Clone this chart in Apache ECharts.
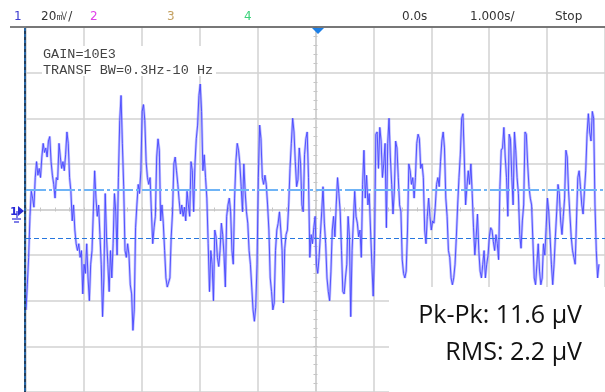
<!DOCTYPE html>
<html>
<head>
<meta charset="utf-8">
<script src="https://cdn.jsdelivr.net/npm/echarts@6/dist/echarts.min.js"></script>
<style>
html,body{margin:0;padding:0;background:#fff}
#main{width:605px;height:392px}
</style>
</head>
<body>
<div id="main"></div>
<script>
// screen: 10 div x 1.000 s/div, 8 div x 2 uV/div (20 mV/div / gain 1E4)
var timeTicks = [-5, -4, -3, -2, -1, 0, 1, 2, 3, 4, 5];
var startTime = -5.0;
var sampleStep = 0.0228;   // s between recorded samples

// trace, in uV, left to right, one quarter at a time
var trace1 = [
  -4.4,-3.3,-2.1,-0.3,0.8,0.5,0.1,1.4,2.1,1.5,
  1.8,1.4,2.3,2.9,2.5,2.7,2.3,3.0,3.2,2.1,
  1.5,1.1,0.5,1.4,1.3,2.9,2.3,1.8,2.1,1.7,
  2.4,3.4,2.9,1.4,0.8,-0.5,0.2,-0.9,-1.5,-1.8,
  -1.5,-2.1,-1.8,-3.7,-2.4,-2.8,-1.5,-3.0,-4.0,-2.4,
  -1.8,-0.1,1.7,0.5,-0.3,0.2,-1.1,-2.4,-4.7,-3.0,
  0.7,-1.2,-2.4,-3.6,-1.8,-3.0,-1.5,0.7,-0.1,-2.0,
  1.4,3.9,5.0,2.9,1.0,-1.8,-2.1,-1.5,-2.0,-3.3,
  -3.7,-5.3,-4.4,-0.8,0.2,1.1,0.7,1.7,4.3,4.6,
  3.9,2.1,1.4,1.1,1.4,-0.1,-1.5,-0.8,-0.3,2.3,
  3.1,2.6,-0.5,0.2,-0.6,-1.8,-3.0,-3.4
];
var trace2 = [
  -3.4,-3.0,-1.2,-0.1,2.0,2.3,1.7,1.1,0.4,-0.2,
  0.2,-0.3,0.1,-0.5,0.8,0.2,-0.3,2.1,1.7,-0.1,
  2.0,3.1,3.7,5.0,5.5,4.3,1.7,2.4,1.4,0.5,
  -1.5,-3.6,-1.8,-2.4,-4.0,-0.9,-1.2,-2.1,-2.5,-1.8,
  -0.6,-1.1,-2.0,-3.4,-0.3,0.2,0.5,-0.1,-1.8,-2.4,
  0.5,2.1,2.9,2.6,2.0,1.0,-0.1,2.0,0.8,-0.1,
  -0.6,-1.8,-2.4,-3.4,-4.4,-4.9,-4.3,-2.4,1.4,3.7,
  3.1,1.4,1.1,1.5,1.1,0.2,-0.9,-3.0,-3.6,-4.4,
  -4.1,-1.8,-0.9,-0.6,-0.1,-0.9,-1.8,-4.1,-1.7,-1.1,
  -0.9,0.2,1.8,2.9,4.0,3.4,2.1,1.0,1.3,2.7,
  2.0,0.2,-0.1,2.4,3.1,3.4,1.4,-2.1,-1.1
];
var trace3 = [
  -1.5,-0.8,-0.3,-2.4,-2.8,-2.1,-1.1,-0.1,1.0,-0.6,
  -1.5,-3.0,-3.6,-4.0,-2.7,-0.9,-0.3,-1.2,0.2,1.4,
  0.7,-0.1,-1.8,-3.6,-3.7,-3.0,-2.4,-0.3,-1.2,-4.7,
  -1.8,-0.5,0.8,-0.3,-0.6,-1.2,-0.9,-2.1,1.1,2.6,
  0.5,1.5,0.2,0.7,-0.9,-2.4,-3.8,-1.8,3.3,3.4,
  1.8,3.6,3.0,1.4,2.0,2.9,-0.8,2.9,4.0,2.3,
  1.1,-0.2,0.8,3.0,2.7,1.4,0.2,-0.1,-2.2,-2.8,
  -3.0,-2.7,-0.9,2.0,1.7,1.1,1.4,0.5,1.4,2.9,
  3.3,3.1,1.8,2.0,1.4,-0.9,-1.5,-0.3,0.5,-0.3,
  -0.9,-0.5,-0.6,0.1,1.1,1.4,1.0,2.1,3.0,3.4,
  2.7,0.5,-0.3,-1.8,-2.1,-3.0,-3.3,-3.0,-2.4
];
var trace4 = [
  -1.2,0.2,1.4,2.4,4.0,4.2,2.3,0.2,1.0,1.7,
  1.1,2.0,0.7,-0.8,-2.0,-1.2,-0.2,-1.8,-2.7,-3.0,
  -2.4,-1.8,-3.0,-2.4,-2.0,-1.2,-0.8,-0.9,-1.4,-1.8,
  -1.1,-1.5,-2.2,1.0,2.6,2.7,3.6,2.3,1.4,-0.3,
  3.3,3.1,1.4,0.2,3.4,2.6,1.4,0.7,-1.1,-1.7,
  -0.5,0.2,3.4,3.3,2.0,1.0,0.5,0.2,0.2,-3.0,
  -3.3,-2.4,-1.5,-2.7,-3.3,-3.0,-1.5,-2.0,-0.8,0.5,
  -0.1,-1.2,-2.4,-3.3,-2.4,-1.2,-0.1,1.1,0.7,-0.5,
  -1.1,-0.3,0.5,2.6,2.3,0.8,-0.2,-1.2,-1.8,-2.1,
  -2.4,-0.5,1.4,1.7,1.0,0.2,-0.2,0.8,1.7,3.3,
  4.2,3.4,3.0,4.3,4.0,0.2,-1.8,-3.0,-2.4
];
// cursor levels (uV)
var cursorY1 = 0.87;
var cursorY2 = -1.27;

var pkpkText = 'Pk-Pk: 11.6 \u00b5V';
var rmsText = 'RMS: 2.2 \u00b5V';

var trace = trace1.concat(trace2, trace3, trace4);
var points = trace.map(function (v, i) { return [startTime + i * sampleStep, v]; });

var gridColor = '#d2d2d2';
var myChart = echarts.init(document.getElementById('main'));

function centerX(pos) {
  return {
    type: 'value', min: -5, max: 5, interval: 1, position: pos,
    axisLine: { show: true, onZero: true, lineStyle: { color: gridColor, width: 1.5 } },
    axisTick: { show: true, length: 2, lineStyle: { color: '#c4c4c4' } },
    minorTick: { show: true, splitNumber: 4, length: 2, lineStyle: { color: '#c4c4c4' } },
    axisLabel: { show: false }, splitLine: { show: false }
  };
}
function centerY(pos) {
  return {
    type: 'value', min: -8, max: 8, interval: 2, position: pos,
    axisLine: { show: true, onZero: true, lineStyle: { color: gridColor, width: 1.5 } },
    axisTick: { show: true, length: 2, lineStyle: { color: '#c4c4c4' } },
    minorTick: { show: true, splitNumber: 5, length: 2, lineStyle: { color: '#c4c4c4' } },
    axisLabel: { show: false }, splitLine: { show: false }
  };
}

myChart.setOption({
  animation: false,
  backgroundColor: '#fff',
  grid: { left: 26, top: 27, width: 585, height: 366 },
  xAxis: [
    {
      type: 'value', min: -5, max: 5, interval: 1,
      axisLine: { show: false }, axisTick: { show: false }, axisLabel: { show: false },
      splitLine: { show: true, lineStyle: { color: gridColor, width: 1.5 } }
    },
    centerX('bottom'),
    centerX('top')
  ],
  yAxis: [
    {
      type: 'value', min: -8, max: 8, interval: 2,
      axisLine: { show: false }, axisTick: { show: false }, axisLabel: { show: false },
      splitLine: { show: true, lineStyle: { color: gridColor, width: 1.5 } }
    },
    centerY('left'),
    centerY('right')
  ],
  series: [
    {
      type: 'line', data: points, showSymbol: false, symbol: 'none', sampling: false,
      lineStyle: { color: 'rgba(130,130,255,0.5)', width: 2.6 },
      silent: true, z: 3
    },
    {
      type: 'line', data: points, showSymbol: false, symbol: 'none', sampling: false,
      lineStyle: { color: '#4646ff', width: 0.9 },
      silent: true, z: 4,
      markLine: {
        silent: true, symbol: 'none', label: { show: false },
        data: [
          { yAxis: cursorY1, lineStyle: { color: '#6fb4f6', width: 2, type: [20, 3, 3, 3] } },
          { yAxis: cursorY2, lineStyle: { color: '#2676de', width: 1.2, type: [5, 3] } }
        ]
      }
    }
  ],
  graphic: [
    // header
    { type: 'rect', shape: { x: 0, y: 0, width: 605, height: 26 }, style: { fill: '#fff' }, z: 50 },
    { type: 'line', shape: { x1: 10, y1: 27, x2: 605, y2: 27 }, style: { stroke: '#555', lineWidth: 1.5 }, z: 51 },
    { type: 'text', x: 14, y: 17, style: { text: '1', fill: '#3a3ad0', font: '12px "DejaVu Sans"', textVerticalAlign: 'middle' }, z: 51 },
    { type: 'text', x: 41, y: 17, style: { text: '20\u33b7/', fill: '#333', font: '12px "DejaVu Sans"', textVerticalAlign: 'middle' }, z: 51 },
    { type: 'text', x: 90, y: 17, style: { text: '2', fill: '#e040e8', font: '12px "DejaVu Sans"', textVerticalAlign: 'middle' }, z: 51 },
    { type: 'text', x: 167, y: 17, style: { text: '3', fill: '#c4a060', font: '12px "DejaVu Sans"', textVerticalAlign: 'middle' }, z: 51 },
    { type: 'text', x: 244, y: 17, style: { text: '4', fill: '#3ad27a', font: '12px "DejaVu Sans"', textVerticalAlign: 'middle' }, z: 51 },
    { type: 'text', x: 402, y: 17, style: { text: '0.0s', fill: '#333', font: '12px "DejaVu Sans"', textVerticalAlign: 'middle' }, z: 51 },
    { type: 'text', x: 470, y: 17, style: { text: '1.000s/', fill: '#333', font: '12px "DejaVu Sans"', textVerticalAlign: 'middle' }, z: 51 },
    { type: 'text', x: 555, y: 17, style: { text: 'Stop', fill: '#333', font: '12px "DejaVu Sans"', textVerticalAlign: 'middle' }, z: 51 },
    // trigger marker
    { type: 'polygon', shape: { points: [[312, 28], [324, 28], [318, 34]] }, style: { fill: '#1c7fe6' }, z: 52 },
    // left edge
    { type: 'line', shape: { x1: 25, y1: 28, x2: 25, y2: 392 }, style: { stroke: '#24405e', lineWidth: 2 }, z: 20 },
    { type: 'line', shape: { x1: 25, y1: 28, x2: 25, y2: 392 }, style: { stroke: '#2a8ae8', lineWidth: 1, lineDash: [3, 3] }, z: 21 },
    // channel 1 ground marker
    { type: 'text', x: 10, y: 212, style: { text: '1', fill: '#2a2ad8', font: 'bold 11px "DejaVu Sans"', textVerticalAlign: 'middle' }, z: 22 },
    { type: 'polygon', shape: { points: [[18, 206], [24, 211], [18, 216]] }, style: { fill: '#2a2ad8' }, z: 22 },
    { type: 'polyline', shape: { points: [[17, 211], [17, 218]] }, style: { stroke: '#2a2ad8', lineWidth: 1.2 }, z: 22 },
    { type: 'line', shape: { x1: 12, y1: 219, x2: 21, y2: 219 }, style: { stroke: '#2a2ad8', lineWidth: 1.2 }, z: 22 },
    { type: 'line', shape: { x1: 14, y1: 222, x2: 19, y2: 222 }, style: { stroke: '#2a2ad8', lineWidth: 1.2 }, z: 22 },
    // annotation
    { type: 'rect', shape: { x: 42, y: 46, width: 174, height: 30 }, style: { fill: '#fff' }, z: 30 },
    { type: 'text', x: 43, y: 54, style: { text: 'GAIN=10E3', fill: '#444', font: '13.5px "Liberation Mono"', textVerticalAlign: 'middle' }, z: 31 },
    { type: 'text', x: 43, y: 70, style: { text: 'TRANSF BW=0.3Hz-10 Hz', fill: '#444', font: '13.5px "Liberation Mono"', textVerticalAlign: 'middle' }, z: 31 },
    // measurement box
    { type: 'rect', shape: { x: 389, y: 287, width: 216, height: 105 }, style: { fill: '#fff' }, z: 40 },
    { type: 'text', x: 582, y: 328, style: { text: pkpkText, fill: '#111', font: '25px "Open Sans"', textAlign: 'right', textVerticalAlign: 'bottom' }, z: 41 },
    { type: 'text', x: 582, y: 365, style: { text: rmsText, fill: '#111', font: '25px "Open Sans"', textAlign: 'right', textVerticalAlign: 'bottom' }, z: 41 }
  ]
});
</script>
</body>
</html>
